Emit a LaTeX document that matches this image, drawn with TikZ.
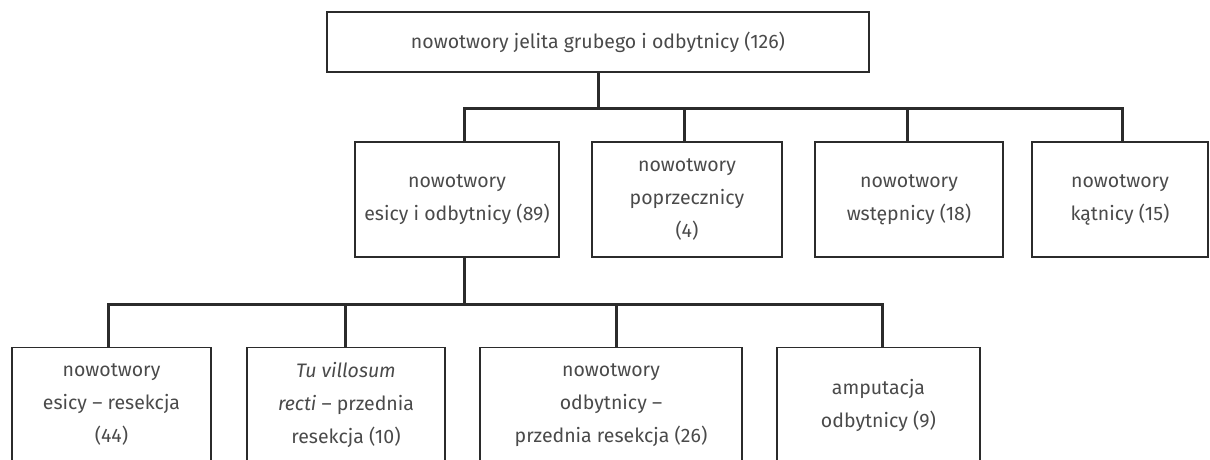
\documentclass[tikz,border=0pt]{standalone}
\usepackage{fontspec}
\setmainfont{Fira Sans}
\usepackage{xcolor}
\usepackage{tikz}

\definecolor{txtgray}{HTML}{4A4A4A}
\definecolor{linegray}{HTML}{2B2B2B}

\begin{document}
\begin{tikzpicture}[
    x=1pt, y=-1pt,
    box/.style={draw=linegray, line width=1.4pt, align=center, text=txtgray,
        font=\fontsize{19.5}{33}\selectfont, inner sep=0pt, minimum height=115pt},
    link/.style={draw=linegray, line width=3pt}
]
\useasboundingbox (0,0) rectangle (1210,460);

\node[box, minimum width=542pt, minimum height=60pt] (jelito) at (598,42) {nowotwory jelita grubego i odbytnicy (126)};

\node[box, minimum width=204pt] (esodb) at (457,199.5) {nowotwory\\esicy i odbytnicy (89)};
\node[box, minimum width=190pt] (poprz) at (687,199.5) {nowotwory\\poprzecznicy\\(4)};
\node[box, minimum width=188pt] (wstep) at (909,199.5) {nowotwory\\wstępnicy (18)};
\node[box, minimum width=176pt] (katn) at (1120,199.5) {nowotwory\\kątnicy (15)};

\node[box, minimum width=199pt] (esic) at (111.5,405) {nowotwory\\esicy – resekcja\\(44)};
\node[box, minimum width=198pt] (villo) at (346,405) {\textit{Tu villosum}\\\textit{recti} – przednia\\resekcja (10)};
\node[box, minimum width=262pt] (odbyt) at (611,405) {nowotwory\\odbytnicy –\\przednia resekcja (26)};
\node[box, minimum width=203pt] (amput) at (878.5,405) {amputacja\\odbytnicy (9)};

\coordinate (bus1) at (598,108);
\coordinate (bus2) at (464,304);

\draw[link] (jelito.south) -- (bus1);
\draw[link] (esodb.north -| 464,0) |- (bus1) -| (katn.north -| 1122,0);
\draw[link] (bus1 -| 684,0) -- (poprz.north -| 684,0);
\draw[link] (bus1 -| 907,0) -- (wstep.north -| 907,0);

\draw[link] (esodb.south -| bus2) -- (bus2);
\draw[link] (esic.north -| 108,0) |- (bus2) -| (amput.north -| 882,0);
\draw[link] (bus2 -| 345,0) -- (villo.north -| 345,0);
\draw[link] (bus2 -| 616,0) -- (odbyt.north -| 616,0);

\end{tikzpicture}
\end{document}
